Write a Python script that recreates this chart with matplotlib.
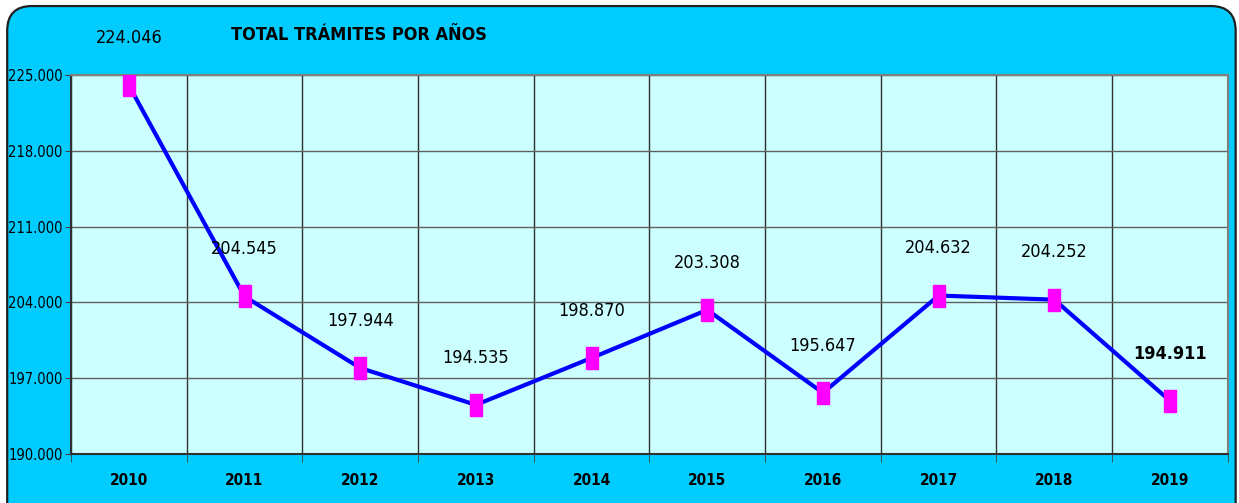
import matplotlib
matplotlib.use('Agg')
import matplotlib.pyplot as plt
from matplotlib.patches import FancyBboxPatch
from matplotlib.ticker import FuncFormatter

years = ['2010', '2011', '2012', '2013', '2014', '2015', '2016', '2017', '2018', '2019']
tramites = [224046, 204545, 197944, 194535, 198870, 203308, 195647, 204632, 204252, 194911]
y_ticks = [190000, 197000, 204000, 211000, 218000, 225000]
title = 'TOTAL TRÁMITES POR AÑOS'

plt.rcParams['font.family'] = ['DejaVu Sans']
plt.rcParams['font.stretch'] = 'condensed'


def miles(v, pos=None):
    return '{:,.0f}'.format(v).replace(',', '.')


fig = plt.figure(figsize=(12.39, 5.03), dpi=100)
fig.patch.set_facecolor('white')

# fondo redondeado
bg = FancyBboxPatch((0.0058, -0.05), 0.9915, 1.038, boxstyle='round,pad=0,rounding_size=0.02',
                    transform=fig.transFigure, facecolor='#00CCFF', edgecolor='#202020',
                    linewidth=1.6, zorder=-10, mutation_aspect=2.46)
fig.patches.append(bg)

ax = fig.add_axes([0.0573, 0.0974, 0.9337, 0.7536])
ax.set_facecolor('#CCFFFF')

x = list(range(len(years)))
rect = [(-0.5, -1), (0.5, -1), (0.5, 1), (-0.5, 1), (-0.5, -1)]
ax.plot(x, tramites, color='#0000FF', linewidth=3, zorder=3)
ax.plot(x, tramites, linestyle='none', marker=rect, markersize=16,
        markerfacecolor='#FF00FF', markeredgecolor='#FF00FF', zorder=4)

for i, v in enumerate(tramites):
    ax.annotate(miles(v), (i, v), xytext=(0, 34), textcoords='offset points',
                ha='center', va='center', fontsize=13,
                fontweight='bold' if i == len(tramites) - 1 else 'normal')

ax.set_xlim(-0.5, len(years) - 0.5)
ax.set_ylim(190000, 225000)
ax.set_yticks(y_ticks)
ax.yaxis.set_major_formatter(FuncFormatter(miles))
ax.set_xticks(x)
ax.set_xticklabels(years, fontweight='bold', fontsize=11)
ax.tick_params(axis='x', length=0, pad=14)
ax.set_xticks([i + 0.5 for i in range(-1, len(years))], minor=True)
ax.tick_params(axis='x', which='minor', length=6, color='#404040')
ax.tick_params(axis='y', labelsize=10.5, length=4, color='#404040', pad=2)

ax.grid(True, axis='y', color='#606060', linewidth=1)
ax.grid(True, axis='x', which='minor', color='#303030', linewidth=1)
ax.set_axisbelow(True)

for side in ['top', 'right']:
    ax.spines[side].set_color('#808080')
    ax.spines[side].set_linewidth(1.5)
for side in ['left', 'bottom']:
    ax.spines[side].set_color('#303030')
    ax.spines[side].set_linewidth(1.5)

fig.text(0.29, 0.93, title, ha='center', va='center', fontsize=13, fontweight='bold')

fig.savefig('out.png', dpi=100, facecolor=fig.get_facecolor())
